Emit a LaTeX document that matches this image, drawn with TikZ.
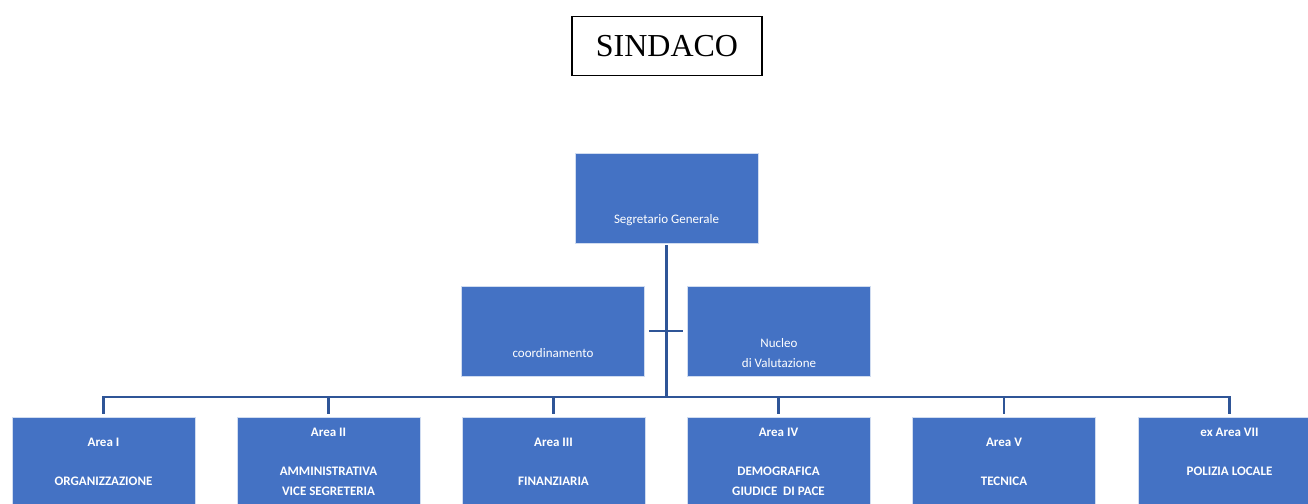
\documentclass[tikz,border=0pt]{standalone}
\usepackage{fontspec}
\setmainfont{Carlito}
\newfontfamily\timesfont{Liberation Serif}
\definecolor{areablue}{HTML}{4472C4}
\definecolor{linkblue}{HTML}{2F5597}
\begin{document}
\begin{tikzpicture}
[x=1pt,y=-1pt,
 ufficio/.style={fill=areablue,draw=white!75!areablue,line width=0.8pt,minimum width=183pt,minimum height=90pt,inner sep=0pt,text=white,align=center,font=\fontsize{13}{19.5}\selectfont},
 area/.style={ufficio,font=\fontsize{13}{19.5}\selectfont\bfseries},
 link/.style={draw=linkblue,line width=2.8pt}]
\useasboundingbox (0,0) rectangle (1308,503);

\node[draw,line width=1.5pt,minimum width=190pt,minimum height=59pt,font=\timesfont\fontsize{32}{36}\selectfont] (sindaco) at (667,46) {SINDACO};

\node[ufficio] (seg) at (666.5,198) {\strut\\\strut\\Segretario Generale};
\node[ufficio] (coord) at (553,331) {\strut\\\strut\\coordinamento};
\node[ufficio] (nucleo) at (779,331) {\strut\\\strut\\Nucleo\\di Valutazione};

\node[area] (a1) at (103.5,462) {Area I\\\strut\\ORGANIZZAZIONE};
\node[area] (a2) at (328.5,462) {Area II\\\strut\\AMMINISTRATIVA\\VICE SEGRETERIA};
\node[area] (a3) at (553.5,462) {Area III\\\strut\\FINANZIARIA};
\node[area] (a4) at (778.5,462) {Area IV\\\strut\\DEMOGRAFICA\\GIUDICE\ \ DI PACE};
\node[area] (a5) at (1004,462) {Area V\\\strut\\TECNICA};
\node[area] (a6) at (1229.5,462) {ex Area VII\\\strut\\POLIZIA LOCALE\\~};

\coordinate (bus) at (666,397);
\draw[link,shorten <=2pt] (seg.south) -- (seg.south |- bus);
\draw[link,shorten <=4pt,shorten >=4pt] (coord.east) -- (nucleo.west);
\draw[link,shorten >=3pt] (a1.north |- bus) -- (a6.north |- bus) -- (a6.north);
\draw[link,shorten >=3pt] (a6.north |- bus) -- (a1.north |- bus) -- (a1.north);

\foreach \i in {2,...,5}{
\draw[link,shorten >=3pt] (a\i.north |- bus) -- (a\i.north);
}
\end{tikzpicture}
\end{document}
